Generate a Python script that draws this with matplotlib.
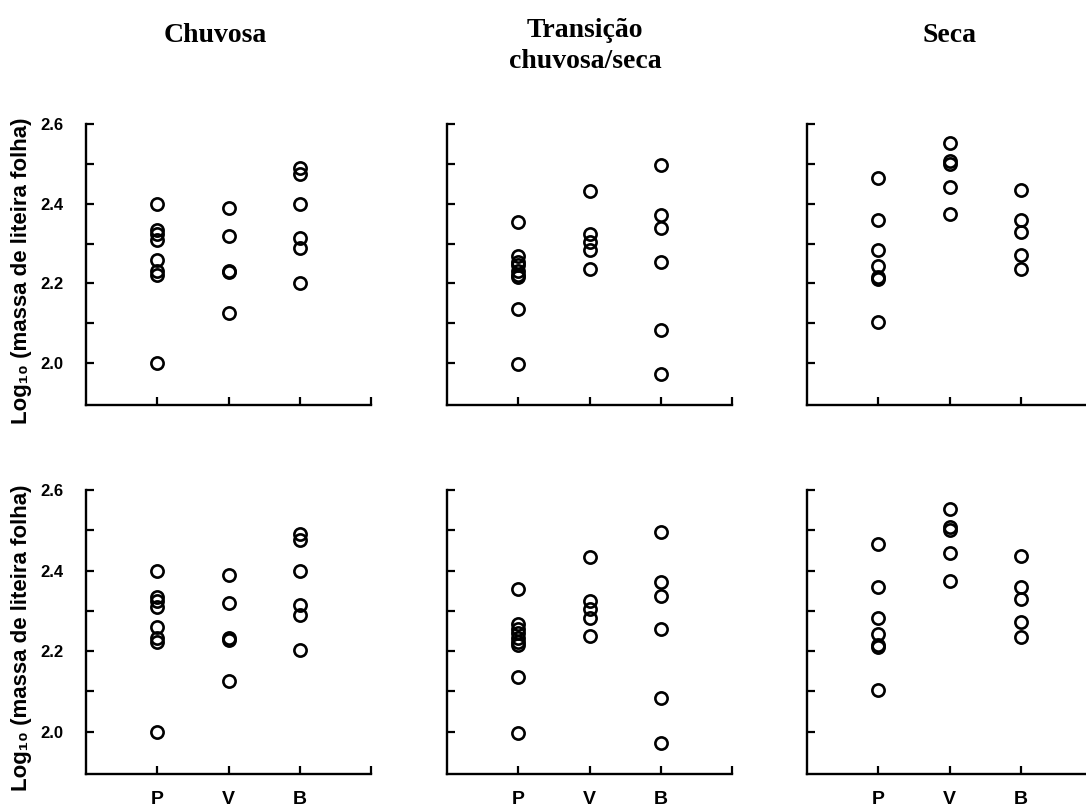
import matplotlib
matplotlib.use("Agg")
import matplotlib.pyplot as plt

# Seasons (columns) and site categories
seasons = ["Chuvosa", "Transição\nchuvosa/seca", "Seca"]
categories = ["P", "V", "B"]

# log10 leaf-litter mass per site, for each season
chuvosa_P = [2.40, 2.335, 2.325, 2.31, 2.26, 2.232, 2.222, 2.0]
chuvosa_V = [2.39, 2.32, 2.232, 2.228, 2.125]
chuvosa_B = [2.49, 2.475, 2.40, 2.315, 2.29, 2.202]

transicao_P = [2.355, 2.268, 2.255, 2.245, 2.232, 2.222, 2.215, 2.136, 1.997]
transicao_V = [2.433, 2.324, 2.305, 2.283, 2.237]
transicao_B = [2.496, 2.371, 2.338, 2.254, 2.084, 1.973]

seca_P = [2.465, 2.36, 2.283, 2.243, 2.216, 2.21, 2.103]
seca_V = [2.553, 2.507, 2.50, 2.443, 2.373]
seca_B = [2.435, 2.358, 2.33, 2.272, 2.235]

season_data = [
    [chuvosa_P, chuvosa_V, chuvosa_B],
    [transicao_P, transicao_V, transicao_B],
    [seca_P, seca_V, seca_B],
]

ylabel = "Log\u2081\u2080 (massa de liteira folha)"
ytick_vals = [2.0, 2.1, 2.2, 2.3, 2.4, 2.5, 2.6]
ytick_labels = ["2.0", "", "2.2", "", "2.4", "", "2.6"]

W, H = 1086, 809
fig = plt.figure(figsize=(W / 100, H / 100), dpi=100)
fig.patch.set_facecolor("white")

col_left = [86, 447, 807]
ax_w = 285
rows = [(124, 405), (490, 774)]  # (top, bottom) in pixels

sans = ["Liberation Sans", "DejaVu Sans"]
serif = ["Liberation Serif", "DejaVu Serif"]

for r, (top, bot) in enumerate(rows):
    for c in range(3):
        left = col_left[c]
        ax = fig.add_axes([left / W, (H - bot) / H, ax_w / W, (bot - top) / H])
        for i, vals in enumerate(season_data[c]):
            ax.plot([i + 1] * len(vals), vals, linestyle="none", marker="o",
                    markersize=8.8, markerfacecolor="none",
                    markeredgecolor="black", markeredgewidth=1.9)
        ax.set_xlim(0, 4)
        ax.set_ylim(1.895, 2.6)
        ax.spines["top"].set_visible(False)
        ax.spines["right"].set_visible(False)
        for s in ("left", "bottom"):
            ax.spines[s].set_linewidth(1.7)
        ax.set_xticks([1, 2, 3, 4])
        ax.set_yticks(ytick_vals)
        ax.tick_params(direction="in", length=6, width=1.6)
        if r == 1:
            ax.set_xticklabels(categories + [""])
        else:
            ax.set_xticklabels([])
        ax.tick_params(axis="x", pad=12)
        if c == 0:
            ax.set_yticklabels(ytick_labels)
            ax.tick_params(axis="y", pad=16)
            fig.text(22 / W, 1 - ((top + bot) / 2 + 6) / H, ylabel,
                     rotation=90, ha="center", va="center",
                     fontsize=16, fontweight="bold", family=sans)
        else:
            ax.set_yticklabels([])
        for lab in ax.get_xticklabels():
            lab.set_fontsize(14)
            lab.set_fontweight("bold")
            lab.set_family(sans)
        for lab in ax.get_yticklabels():
            lab.set_fontsize(12)
            lab.set_fontweight("bold")
            lab.set_family(sans)

# Season headings
fig.text(215 / W, 1 - 36 / H, seasons[0], ha="center", va="center",
         fontsize=20, fontweight="bold", family=serif)
fig.text(585 / W, 1 - 46 / H, seasons[1], ha="center", va="center",
         fontsize=20, fontweight="bold", family=serif, linespacing=1.3)
fig.text(950 / W, 1 - 36 / H, seasons[2], ha="center", va="center",
         fontsize=20, fontweight="bold", family=serif)

fig.savefig("out.png", dpi=100, facecolor="white")
